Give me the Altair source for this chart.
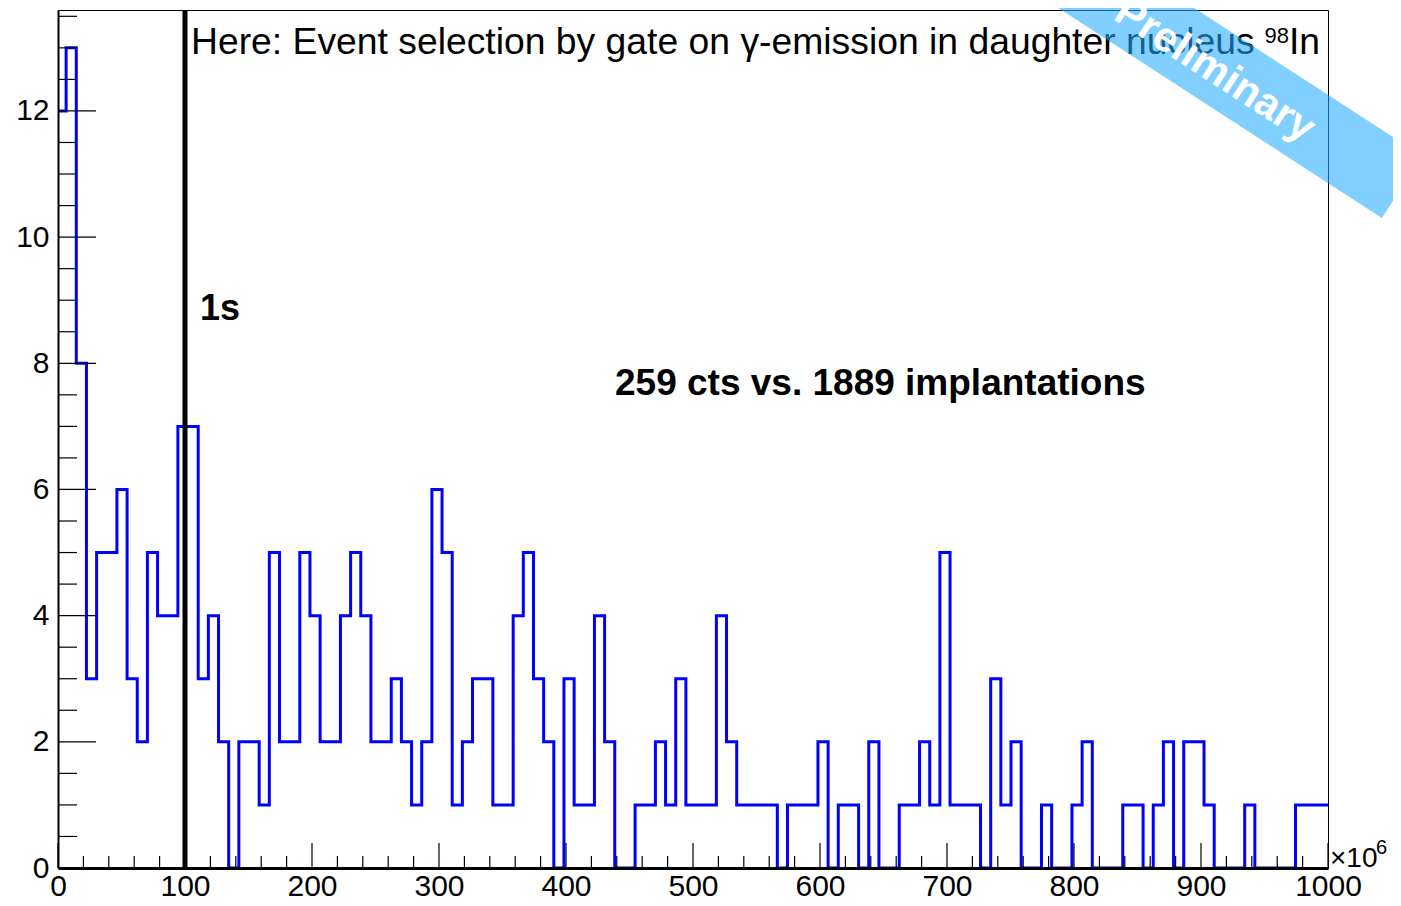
import altair as alt
import pandas as pd

# ---------------- data ----------------
counts = [
    12, 13, 8, 3, 5, 5, 6, 3, 2, 5,
    4, 4, 7, 7, 3, 4, 2, 0, 2, 2,
    1, 5, 2, 2, 5, 4, 2, 2, 4, 5,
    4, 2, 2, 3, 2, 1, 2, 6, 5, 1,
    2, 3, 3, 1, 1, 4, 5, 3, 2, 0,
    3, 1, 1, 4, 2, 0, 0, 1, 1, 2,
    1, 3, 1, 1, 1, 4, 2, 1, 1, 1,
    1, 0, 1, 1, 1, 2, 0, 1, 1, 0,
    2, 0, 0, 1, 1, 2, 1, 5, 1, 1,
    1, 0, 3, 1, 2, 0, 0, 1, 0, 0,
    1, 2, 0, 0, 0, 1, 1, 0, 1, 2,
    0, 2, 2, 1, 0, 0, 0, 1, 0, 0,
    0, 0, 1, 1, 1, 1,
]
first_edge = -1.6
bin_width = 8.0

x_major = [0, 100, 200, 300, 400, 500, 600, 700, 800, 900, 1000]
x_minor = [v for v in range(0, 1001, 20) if v % 100 != 0]
y_major = [0, 2, 4, 6, 8, 10, 12]
y_minor = [v * 0.5 for v in range(0, 28) if v % 4 != 0]

marker_x = [100]
title_text = ["Here: Event selection by gate on \u03b3-emission in daughter nucleus"]
title_sup = ["98"]
title_end = ["In"]
marker_label = ["1s"]
stat_label = ["259 cts vs. 1889 implantations"]
exp_base = ["\u00d710"]
exp_sup = ["6"]
banner_text = ["Preliminary"]

# ---------------- build chart ----------------
edges = [first_edge + bin_width * i for i in range(len(counts) + 1)]
hist = pd.DataFrame({"t": edges, "n": counts + [counts[-1]]})

W, H = 1270, 858
FONT = "Liberation Sans"
xs = alt.Scale(domain=[0, 1000], nice=False, zero=False)
ys = alt.Scale(domain=[0, 13.6], nice=False, zero=True)

x_axis = alt.Axis(
    values=x_major, format="d", title=None, ticks=False, grid=False,
    domainWidth=3, domainColor="black", labelFontSize=30, labelFont=FONT,
    labelColor="black", labelPadding=3, labelFlush=False, labelOverlap=False,
    zindex=1)
y_axis = alt.Axis(
    values=y_major, format="d", title=None, ticks=False, grid=False,
    domainWidth=2, domainColor="black", labelFontSize=30, labelFont=FONT,
    labelColor="black", labelPadding=9, labelFlush=False, labelOverlap=False,
    zindex=1)

line = alt.Chart(hist).mark_line(
    interpolate="step-after", clip=True, color="#0000ff", strokeWidth=3
).encode(
    x=alt.X("t:Q", scale=xs, axis=x_axis),
    y=alt.Y("n:Q", scale=ys, axis=y_axis),
)

xt_major = alt.Chart(pd.DataFrame({"t": x_major})).mark_rule(color="black", strokeWidth=1.2).encode(
    x=alt.X("t:Q", scale=xs, axis=x_axis), y=alt.value(H), y2=alt.value(H - 25))
xt_minor = alt.Chart(pd.DataFrame({"t": x_minor})).mark_rule(color="black", strokeWidth=1.2).encode(
    x=alt.X("t:Q", scale=xs, axis=x_axis), y=alt.value(H), y2=alt.value(H - 12))
yt_major = alt.Chart(pd.DataFrame({"n": y_major})).mark_rule(color="black", strokeWidth=1.2).encode(
    y=alt.Y("n:Q", scale=ys, axis=y_axis), x=alt.value(0), x2=alt.value(38))
yt_minor = alt.Chart(pd.DataFrame({"n": y_minor})).mark_rule(color="black", strokeWidth=1.2).encode(
    y=alt.Y("n:Q", scale=ys, axis=y_axis), x=alt.value(0), x2=alt.value(19))

marker = alt.Chart(pd.DataFrame({"t": marker_x})).mark_rule(color="black", strokeWidth=5).encode(
    x=alt.X("t:Q", scale=xs, axis=x_axis), y=alt.value(0), y2=alt.value(H))


def label(txt, x, y, size, align="left", weight="normal", color="black", angle=0, baseline="alphabetic"):
    return alt.Chart(pd.DataFrame({"s": txt})).mark_text(
        font=FONT, fontSize=size, fontWeight=weight, color=color, align=align,
        baseline=baseline, angle=angle
    ).encode(text="s:N", x=alt.value(x), y=alt.value(y))


t_main = label(title_text, 133, 44, 37.3)
t_sup = label(title_sup, 1231, 33, 22, align="right")
t_end = label(title_end, 1262, 44, 37.3, align="right")
t_1s = label(marker_label, 142, 310, 36, weight="bold")
t_stat = label(stat_label, 557, 385, 37, weight="bold")
t_exp = label(exp_base, 1272, 857, 28)
t_exp6 = label(exp_sup, 1318, 844, 20)

banner = alt.Chart(pd.DataFrame({"b": [1]})).mark_rule(
    color="#22aaff", opacity=0.57, strokeWidth=74, strokeCap="butt"
).encode(x=alt.value(925), y=alt.value(-95), x2=alt.value(1344), y2=alt.value(177))
t_banner = label(banner_text, 1157, 60, 42, align="center", weight="bold", color="white",
                 angle=33, baseline="middle")

chart = alt.layer(
    line, xt_major, xt_minor, yt_major, yt_minor, marker,
    t_main, t_sup, t_end, t_1s, t_stat, t_exp, t_exp6, banner, t_banner
).properties(
    width=W, height=H,
    padding={"left": 50, "top": 2, "right": 65, "bottom": 30},
    autosize=alt.AutoSizeParams(type="none"),
    background="white",
).configure_view(stroke="black", strokeWidth=1)

chart.save("out.html", embed_options={"renderer": "svg", "actions": False})
